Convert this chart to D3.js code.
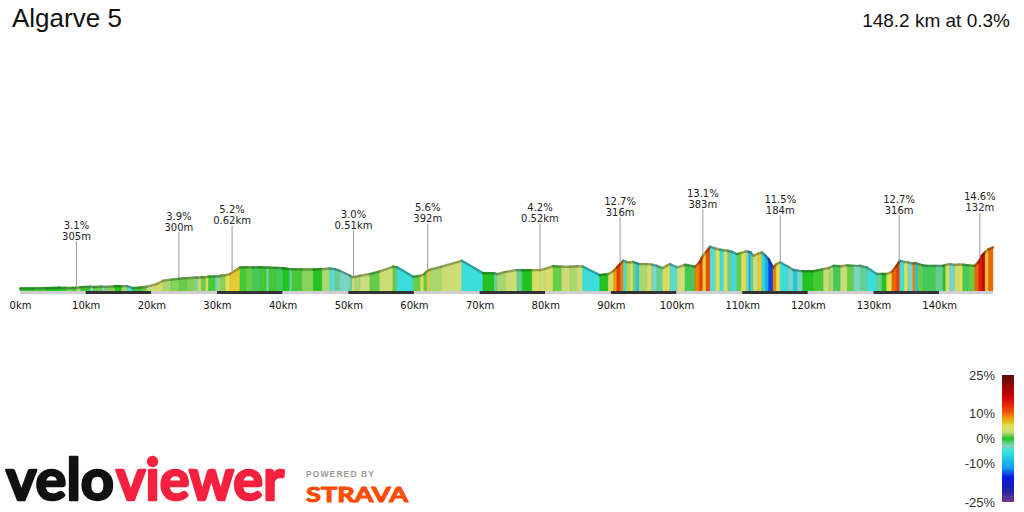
<!DOCTYPE html>
<html><head><meta charset="utf-8">
<script src="https://cdn.jsdelivr.net/npm/d3@7"></script>
<style>body{margin:0;background:#fff;} svg{display:block}</style>
</head><body><svg id="c" width="1024" height="512"></svg>
<script>
// ---------- data ----------
const distKm = [0,2,4,6,7,8,8.6,9.2,10.7,11.2,12.5,13,14.5,15.5,16.3,17.2,18.5,19.3,20.8,21.8,
  23,24.2,25.5,26.9,27.2,27.6,28.3,28.7,29.8,30.2,30.5,31.3,32,33.5,34.5,35.5,36.5,37.6,37.9,39,
  40,41.1,41.4,43,44.7,46,47.2,48,48.7,50.3,50.6,51,51.8,53.3,54.8,56.8,57.4,59.9,61,61.5,
  62,62.4,64.2,67.3,70.5,72.2,72.7,74,75.7,76.5,78,79.2,80,81.2,82.5,83.8,84.8,85.7,88.3,89.6,
  90.4,90.9,91.5,91.9,92.3,92.9,93.4,93.9,94.3,95.5,96.2,97,97.9,98.5,99,100.1,101.3,102.8,103.5,104,
  104.5,105.1,106,106.6,107.2,107.8,108.5,109.2,109.9,110.6,111,111.3,111.7,112.4,113,113.5,114,114.7,115.2,115.8,
  117,117.8,118.4,119.2,120.8,122.4,123.2,123.9,125,126,127,128,129,130.5,131.3,132,132.8,133.5,134,134.7,
  135.2,136,136.4,136.8,137.5,138.1,139.5,140.6,141,141.6,142.4,143,143.6,144.4,145.4,146,146.5,147,147.5,148.2];
const elevM = [38,40,42,46,44,45,46,52,58,55,60,56,64,64,66,43,50,58,89,127,
  140,150,158,165,162,168,170,175,178,176,185,192,205,281,283,282,283,281,279,276,
  272,262,260,259,258,262,269,262,243,185,168,172,185,205,235,289,285,173,185,200,
  240,254,290,358,216,215,205,230,251,249,250,251,265,297,290,289,295,292,193,205,
  240,280,330,358,345,339,345,330,320,320,315,300,274,300,320,281,312,289,340,416,
  460,520,500,486,480,474,460,436,450,466,462,455,416,440,454,420,380,281,320,339,
  290,251,245,238,237,262,275,300,295,305,300,300,280,205,205,205,230,300,358,345,
  340,327,330,320,305,300,300,300,310,320,310,315,312,305,300,345,416,460,490,512];
const gradePct = [0.3,0.5,0,-0.5,1,0.5,2,0.5,-3,1,-3,1.5,0,2,-4,0.5,1,3,4,2,
  1.5,1,1.5,-3,4,1,4,0.5,-3,2,1.5,5,6,0.5,1,-1,0.5,-3,0.5,-1,
  0,-3,0.5,1.5,0,2,-4,-2,-3,-2,3,2,2.5,1,3,1,-5,1,5,1,
  6,2,3,-5,0,-2,2,3,-2,0,4,3,4,1,3,2,3,-5,0,4,
  8,12,9,-5,2,5,-2,-8,2,4,-3,-2,4,5,-4,3,-1,9,12,6,
  11,-4,5,-5,4,-2,-5,1,5,-3,-10,-2,3,6,-6,-10,-14,9,5,-5,
  -3,-8,-3,0,0.5,3,2,-1,3,1,-3,-2,-5,-2,0,5,10,12,-5,5,
  -3,9,-8,1,-1,-1,-2,0,4,-3,3,5,-1,1,10,14,17,6,10];
const annKm = [8.6,24.2,32.3,50.8,62.1,79.2,91.4,104.0,115.8,133.9,146.2];
const annGrade = ["3.1%","3.9%","5.2%","3.0%","5.6%","4.2%","12.7%","13.1%","11.5%","12.7%","14.6%"];
const annLen = ["305m","300m","0.62km","0.51km","392m","0.52km","316m","383m","184m","316m","132m"];
const tickKm = [0,10,20,30,40,50,60,70,80,90,100,110,120,130,140];
const legendTicks = [25,10,0,-10,-25];
const gradeStops = [-25,-20.6,-15.3,-11.4,-5.4,-2.8,0,2.5,5,7.9,11,16.4,25];
const gradeColors = ["#7a3a90","#2222a0","#0818e0","#10a0f0","#30e0e0","#80d4c0","#22c422",
  "#c8dc80","#e2e050","#f0a000","#ec4a00","#d40000","#5a0a0a"];
const titleText = "Algarve 5";
const summaryText = "148.2 km at 0.3%";

// ---------- drawing ----------
const svg = d3.select("#c");
const x = d3.scaleLinear().domain([0, 148.2]).range([20, 993]);
const y = d3.scaleLinear().domain([0, 520]).range([291, 246]);
const col = d3.scaleLinear().domain(gradeStops).range(gradeColors).clamp(true);

svg.append("text").attr("x", 12).attr("y", 27).attr("font-family", "Liberation Sans, Arial, sans-serif")
  .attr("font-size", 26).attr("fill", "#111").text(titleText);
svg.append("text").attr("x", 1010).attr("y", 27).attr("text-anchor", "end")
  .attr("font-family", "Liberation Sans, Arial, sans-serif").attr("font-size", 19).attr("fill", "#111").text(summaryText);

const pts = distKm.map((d, i) => ({km: d, e: elevM[i]}));
const segs = gradePct.map((g, i) => ({a: pts[i], b: pts[i + 1], g}));
const area = d3.area().x(d => x(d.km)).y0(y(0)).y1(d => y(d.e));
const prof = svg.append("g");
prof.selectAll("path.seg").data(segs).join("path").attr("class", "seg")
  .attr("d", s => area([s.a, s.b]))
  .attr("fill", s => col(s.g))
  .attr("stroke", s => col(s.g)).attr("stroke-width", 0.4);
prof.selectAll("line.sep").data(segs.slice(1)).join("line").attr("class", "sep")
  .attr("x1", s => x(s.a.km)).attr("x2", s => x(s.a.km))
  .attr("y1", s => y(s.a.e) + 1).attr("y2", y(0))
  .attr("stroke", "#000").attr("stroke-opacity", 0.08).attr("stroke-width", 0.8);
const line = d3.line().x(d => x(d.km)).y(d => y(d.e) + 0.8);
prof.selectAll("path.top").data(segs).join("path").attr("class", "top")
  .attr("d", s => line([s.a, s.b])).attr("fill", "none")
  .attr("stroke", s => d3.color(col(s.g)).darker(1.2)).attr("stroke-width", 2.4)
  .attr("stroke-linecap", "round").attr("stroke-opacity", 0.8);

// distance scale bar
const bars = d3.range(0, 148.2, 10).map(k => ({k0: k, k1: Math.min(k + 10, 148.2)}));
svg.append("g").selectAll("rect").data(bars).join("rect")
  .attr("x", d => x(d.k0)).attr("width", d => x(d.k1) - x(d.k0))
  .attr("y", 291).attr("height", 3)
  .attr("fill", (d, i) => i % 2 ? "#333" : "#cfcfcf");

// axis
const ax = svg.append("g").attr("transform", "translate(0,294)")
  .call(d3.axisBottom(x).tickValues(tickKm).tickSize(0).tickPadding(8).tickFormat(d => d + "km"));
ax.select(".domain").remove();
ax.selectAll("text").attr("font-family", "DejaVu Sans, Verdana, sans-serif").attr("font-size", 10).attr("fill", "#111");

// climb annotations
const elevAt = km => { const i = Math.max(0, d3.bisectRight(distKm, km) - 1);
  const j = Math.min(i + 1, distKm.length - 1); const t = j === i ? 0 : (km - distKm[i]) / (distKm[j] - distKm[i]);
  return elevM[i] + t * (elevM[j] - elevM[i]); };
const ann = svg.append("g").selectAll("g").data(annKm).join("g");
ann.each(function(km, i) {
  const g = d3.select(this), px = x(km), py = y(elevAt(km));
  g.append("line").attr("x1", px).attr("x2", px).attr("y1", py - 46).attr("y2", py)
    .attr("stroke", "#999").attr("stroke-width", 1);
  g.append("text").attr("x", px).attr("y", py - 58.5).attr("text-anchor", "middle")
    .attr("font-family", "DejaVu Sans, Verdana, sans-serif").attr("font-size", 10).attr("fill", "#222").text(annGrade[i]);
  g.append("text").attr("x", px).attr("y", py - 47.5).attr("text-anchor", "middle")
    .attr("font-family", "DejaVu Sans, Verdana, sans-serif").attr("font-size", 10).attr("fill", "#222").text(annLen[i]);
});

// legend
const ly = d3.scaleLinear().domain([25, -25]).range([375, 502]);
const grad = svg.append("defs").append("linearGradient").attr("id", "lg")
  .attr("x1", 0).attr("x2", 0).attr("y1", 0).attr("y2", 1);
gradeStops.slice().reverse().forEach(g => grad.append("stop")
  .attr("offset", (25 - g) / 50).attr("stop-color", col(g)));
svg.append("rect").attr("x", 1002).attr("y", ly(25)).attr("width", 12).attr("height", ly(-25) - ly(25)).attr("fill", "url(#lg)");
svg.append("g").selectAll("text").data(legendTicks).join("text")
  .attr("x", 995).attr("y", d => ly(d)).attr("dy", "0.35em").attr("text-anchor", "end")
  .attr("font-family", "Liberation Sans, Arial, sans-serif").attr("font-size", 13).attr("fill", "#333")
  .text(d => d + "%");

// logos
const logo = svg.append("g");
logo.append("text").attr("x", 6).attr("y", 500).attr("font-family", "Lato, Liberation Sans, sans-serif")
  .attr("font-weight", 700).attr("font-size", 58).attr("fill", "#111").attr("stroke", "#111").attr("stroke-width", 2.5)
  .attr("stroke-linejoin", "round")
  .attr("textLength", 108).attr("lengthAdjust", "spacingAndGlyphs").text("velo");
logo.append("text").attr("x", 116).attr("y", 500).attr("font-family", "Lato, Liberation Sans, sans-serif")
  .attr("font-weight", 700).attr("font-size", 58).attr("fill", "#f5213f").attr("stroke", "#f5213f").attr("stroke-width", 2.5)
  .attr("stroke-linejoin", "round")
  .attr("textLength", 168).attr("lengthAdjust", "spacingAndGlyphs").text("viewer");
logo.append("text").attr("x", 306).attr("y", 477).attr("font-family", "Liberation Sans, Arial, sans-serif")
  .attr("font-weight", 700).attr("font-size", 8.5).attr("fill", "#999")
  .attr("textLength", 68).attr("lengthAdjust", "spacing").text("POWERED BY");
logo.append("text").attr("x", 306).attr("y", 502).attr("font-family", "Lato, Liberation Sans, sans-serif")
  .attr("font-weight", 700).attr("font-size", 21).attr("fill", "#fc4c02").attr("stroke", "#fc4c02").attr("stroke-width", 1)
  .attr("textLength", 102).attr("lengthAdjust", "spacingAndGlyphs").text("STRAVA");
</script></body></html>
